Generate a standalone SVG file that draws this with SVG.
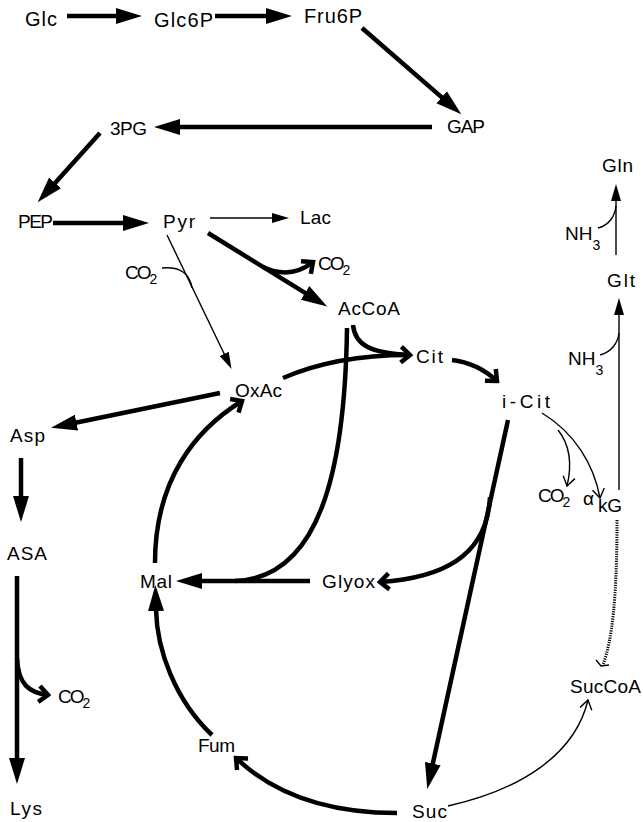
<svg xmlns="http://www.w3.org/2000/svg" width="643" height="822" viewBox="0 0 643 822">
<style>
text{font-family:"Liberation Sans",Arial,sans-serif;font-size:19px;fill:#000}
.big{font-size:20px}
.co{letter-spacing:-2px}
.sub{font-size:14px;letter-spacing:0}
.k{fill:none;stroke:#000;stroke-width:4.5}
.t{fill:none;stroke:#000;stroke-width:1.4}
.d{fill:none;stroke:#000;stroke-width:3;stroke-dasharray:1.2 1.2}
</style>
<defs>
<marker id="fh" markerUnits="userSpaceOnUse" viewBox="0 -10 30 20" markerWidth="30" markerHeight="20" refX="1" refY="0" orient="auto"><path d="M0,-8 L26,0 L0,8 z" fill="#000"/></marker>
<marker id="th" markerUnits="userSpaceOnUse" viewBox="0 -7 20 14" markerWidth="20" markerHeight="14" refX="1" refY="0" orient="auto"><path d="M0,-5 L17,0 L0,5 z" fill="#000"/></marker>
<marker id="ch" markerUnits="userSpaceOnUse" viewBox="-14 -12 17 24" markerWidth="17" markerHeight="24" refX="0" refY="0" orient="auto"><path d="M-9,-8 L0,0 L-9,8" fill="none" stroke="#000" stroke-width="4.5"/></marker>
<marker id="tc" markerUnits="userSpaceOnUse" viewBox="-12 -9 14 18" markerWidth="14" markerHeight="18" refX="0" refY="0" orient="auto"><path d="M-9,-6 L0,0 L-9,6" fill="none" stroke="#000" stroke-width="1.4"/></marker>
</defs>
<g id="connectors">
<path class="k" d="M67,16 L117,16" marker-end="url(#fh)"/>
<path class="k" d="M215,16 L267,16" marker-end="url(#fh)"/>
<path class="k" d="M362,28 L442.4,97.9" marker-end="url(#fh)"/>
<path class="k" d="M432,127 L179,127" marker-end="url(#fh)"/>
<path class="k" d="M100,133 L54.4,183.7" marker-end="url(#fh)"/>
<path class="k" d="M53,223 L124,223" marker-end="url(#fh)"/>
<path class="t" d="M210,218 L273,218" marker-end="url(#th)"/>
<path class="k" d="M208,233 L305.9,293.4" marker-end="url(#fh)"/>
<path class="k" d="M263,267 Q290,280 313,262" marker-end="url(#ch)"/>
<path class="t" d="M167,235 L224.6,354.7" marker-end="url(#th)"/>
<path class="t" d="M162,268 C180,266 190,274 192,288"/>
<path class="k" d="M353,325 C355,345 370,353 410,355" marker-end="url(#ch)"/>
<path class="k" d="M283,378 C320,362 360,355 408,355"/>
<path class="k" d="M347,328 C345,470 320,578 235,581"/>
<path class="k" d="M310,581 L201,581" marker-end="url(#fh)"/>
<path class="k" d="M490,497 C487,558 440,578 380,582" marker-end="url(#ch)"/>
<path class="k" d="M508,420 L432.6,764.6" marker-end="url(#fh)"/>
<path class="k" d="M452,360 C470,362 485,370 497,381" marker-end="url(#ch)"/>
<path class="t" d="M542,413 C575,433 594,465 600,498" marker-end="url(#tc)"/>
<path class="t" d="M558,430 C570,445 572,465 567,486" marker-end="url(#tc)"/>
<path class="t" d="M616,255 L616,200" marker-end="url(#th)"/>
<path class="t" d="M598,228 C610,225 615,215 616,206"/>
<path class="t" d="M619,490 L619,314" marker-end="url(#th)"/>
<path class="t" d="M600,355 C612,352 618,342 619,333"/>
<path class="d" d="M617,520 C617,600 612,640 603,665"/>
<path class="t" d="M596,660 L601,666 L609,665"/>
<path class="t" d="M448,806 C520,790 575,755 588,700" marker-end="url(#tc)"/>
<path class="k" d="M397,813 C330,813 275,795 236,758" marker-end="url(#ch)"/>
<path class="k" d="M212,735 C175,700 157,650 156,610" marker-end="url(#fh)"/>
<path class="k" d="M155,563 C155,480 195,430 242,401" marker-end="url(#ch)"/>
<path class="k" d="M220,393 L75.5,422.8" marker-end="url(#fh)"/>
<path class="k" d="M21,458 L21,497" marker-end="url(#fh)"/>
<path class="k" d="M17,576 L17,759" marker-end="url(#fh)"/>
<path class="k" d="M17,658 C18,685 30,693 48,695" marker-end="url(#ch)"/>
</g>
<g id="Glc"><text class="big" x="25" y="26" textLength="32">Glc</text></g>
<g id="Glc6P"><text class="big" x="154" y="27" textLength="59">Glc6P</text></g>
<g id="Fru6P"><text class="big" x="304" y="23" textLength="58">Fru6P</text></g>
<g id="GAP"><text x="447" y="133" textLength="38">GAP</text></g>
<g id="3PG"><text x="110" y="135" textLength="37">3PG</text></g>
<g id="PEP"><text x="18" y="228" textLength="35">PEP</text></g>
<g id="Pyr"><text x="163" y="228" textLength="32">Pyr</text></g>
<g id="Lac"><text x="300" y="224" textLength="31">Lac</text></g>
<g id="CO2a"><text class="co" x="318" y="270">CO<tspan class="sub" dy="5">2</tspan></text></g>
<g id="CO2b"><text class="co" x="125" y="279">CO<tspan class="sub" dy="5">2</tspan></text></g>
<g id="AcCoA"><text x="338" y="315" textLength="62">AcCoA</text></g>
<g id="Cit"><text x="416" y="363" textLength="27">Cit</text></g>
<g id="OxAc"><text x="235" y="397" textLength="47">OxAc</text></g>
<g id="iCit"><text x="502" y="408" textLength="48">i-Cit</text></g>
<g id="Asp"><text x="10" y="442" textLength="35">Asp</text></g>
<g id="ASA"><text x="7" y="560" textLength="40">ASA</text></g>
<g id="Mal"><text x="140" y="588" textLength="32">Mal</text></g>
<g id="Glyox"><text x="322" y="588" textLength="53">Glyox</text></g>
<g id="CO2c"><text class="co" x="538" y="502">CO<tspan class="sub" dy="5">2</tspan></text></g>
<g id="akG"><text x="583" y="505">α</text><text x="598" y="512" textLength="24">kG</text></g>
<g id="SucCoA"><text x="570" y="693" textLength="71">SucCoA</text></g>
<g id="CO2d"><text class="co" x="58" y="703">CO<tspan class="sub" dy="5">2</tspan></text></g>
<g id="Fum"><text x="198" y="752" textLength="37">Fum</text></g>
<g id="Suc"><text x="412" y="818" textLength="35">Suc</text></g>
<g id="Lys"><text x="10" y="815" textLength="32">Lys</text></g>
<g id="Gln"><text x="602" y="172" textLength="31">Gln</text></g>
<g id="Glt"><text x="607" y="287" textLength="28">Glt</text></g>
<g id="NH3a"><text x="565" y="240">NH<tspan class="sub" dy="10">3</tspan></text></g>
<g id="NH3b"><text x="568" y="365">NH<tspan class="sub" dy="10">3</tspan></text></g>
</svg>
